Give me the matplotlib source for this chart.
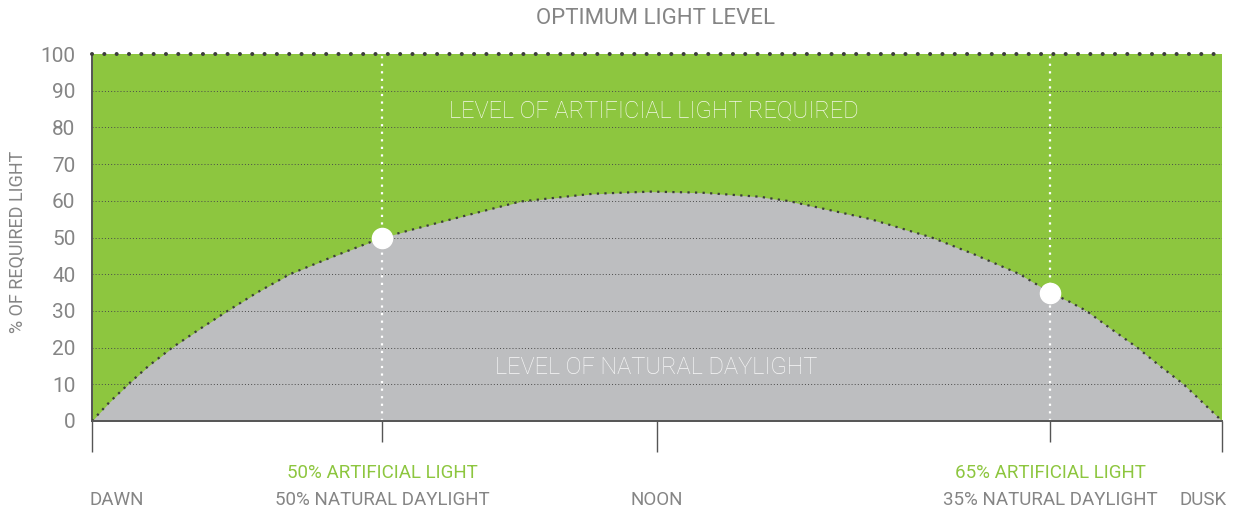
import matplotlib
matplotlib.use("Agg")
import matplotlib.pyplot as plt
import matplotlib.transforms as mtransforms

plt.rcParams["font.family"] = ["Roboto", "DejaVu Sans"]

# ── Data (position through the day: 0 = dawn, 1 = dusk) ──────────────────────
day_pos = [0.0, 0.015, 0.032, 0.050, 0.071, 0.095, 0.120, 0.146, 0.175,
           0.215, 0.257, 0.316, 0.379, 0.443, 0.495, 0.540, 0.591, 0.617,
           0.689, 0.743, 0.780, 0.821, 0.848, 0.865, 0.880, 0.900, 0.925,
           0.945, 0.966, 0.983, 1.0]
daylight = [0, 5, 10, 15, 20, 25, 30, 35, 40,
            45, 50, 54.8, 59.8, 61.9, 62.5, 62.2, 61.1, 59.9,
            55.0, 50, 45.5, 40, 35, 32.5, 30, 25.5, 20,
            15, 10, 5, 0]

marker_pos = [0.257, 0.848]
marker_val = [50, 35]
artificial_labels = ["50% ARTIFICIAL LIGHT", "65% ARTIFICIAL LIGHT"]
natural_labels = ["50% NATURAL DAYLIGHT", "35% NATURAL DAYLIGHT"]

major_pos = [0.0, 0.5, 1.0]
major_labels = ["DAWN", "NOON", "DUSK"]
yticks = list(range(0, 101, 10))

green = "#8DC63F"
grey = "#BDBEC0"
text_grey = "#858585"
dark = "#3C3C3C"

fig = plt.figure(figsize=(12.35, 5.13), dpi=100)
ax = fig.add_axes([92 / 1235, 1 - 421 / 513, (1222 - 92) / 1235, (421 - 54) / 513])

# fills
ax.fill_between([0, 1], 0, 100, color=green, lw=0, zorder=0)
ax.fill_between(day_pos, 0, daylight, color=grey, lw=0, zorder=1)

# grid
for yv in yticks[1:-1]:
    ax.axhline(yv, color="#4a4a4a", lw=0.7, ls=(0, (1, 2.2)), zorder=2)
ax.axhline(100, color=dark, lw=2.9, ls=(0, (0.01, 3.05)),
           dash_capstyle="round", zorder=5, clip_on=False)

# daylight curve
ax.plot(day_pos, daylight, color=dark, lw=1.6, ls=(0, (1, 2.4)), zorder=4)

# vertical white markers
for xp, yv in zip(marker_pos, marker_val):
    ax.plot([xp, xp], [0, 100], color="white", lw=1.6, ls=(0, (1, 2.4)), zorder=3)
ax.plot(marker_pos, marker_val, "o", color="white", ms=14.5, mec="white", zorder=6)

# in-chart labels
ax.text(0.497, 84.7, "LEVEL OF ARTIFICIAL LIGHT REQUIRED", color="#F4F8EA",
        fontsize=17, fontweight="light", ha="center", va="center", zorder=7)
ax.text(0.499, 14.7, "LEVEL OF NATURAL DAYLIGHT", color="#F8F8F8",
        fontsize=17, fontweight="light", ha="center", va="center", zorder=7)

# axes
ax.set_xlim(0, 1)
ax.set_ylim(0, 100)
ax.set_yticks(yticks)
ax.set_yticklabels([str(v) for v in yticks], fontsize=15, color=text_grey)
ax.tick_params(axis="y", length=0, pad=12)
ax.set_xticks(major_pos)
ax.set_xticks(marker_pos, minor=True)
ax.tick_params(axis="x", which="major", length=22, width=1.0, color="#555555",
               labelbottom=False)
ax.tick_params(axis="x", which="minor", length=15, width=1.0, color="#555555",
               labelbottom=False)
for side in ["top", "right"]:
    ax.spines[side].set_visible(False)
ax.spines["bottom"].set_color("#555555")
ax.spines["bottom"].set_linewidth(1.4)
ax.spines["bottom"].set_zorder(8)
ax.spines["left"].set_color("#555555")
ax.spines["left"].set_linewidth(1.4)

# bottom labels
trans = mtransforms.blended_transform_factory(ax.transData, fig.transFigure)
lab_kw = dict(fontsize=13.5, va="center", transform=trans)
ax.text(major_pos[0] - 0.002, 1 - 500 / 513, major_labels[0], color=text_grey,
        ha="left", **lab_kw)
ax.text(major_pos[1], 1 - 500 / 513, major_labels[1], color=text_grey,
        ha="center", **lab_kw)
ax.text(major_pos[2] + 0.004, 1 - 500 / 513, major_labels[2], color=text_grey,
        ha="right", **lab_kw)
for xp, a_lab, n_lab in zip(marker_pos, artificial_labels, natural_labels):
    ax.text(xp, 1 - 473 / 513, a_lab, color=green, ha="center", **lab_kw)
    ax.text(xp, 1 - 500 / 513, n_lab, color=text_grey, ha="center", **lab_kw)

# title and y label
fig.text(655 / 1235, 1 - 19 / 513, "OPTIMUM LIGHT LEVEL", color=text_grey,
         fontsize=16, ha="center", va="center")
fig.text(18 / 1235, 1 - 242 / 513, "% OF REQUIRED LIGHT", color=text_grey,
         fontsize=13, ha="center", va="center", rotation=90)

fig.savefig("out.png", dpi=100)
